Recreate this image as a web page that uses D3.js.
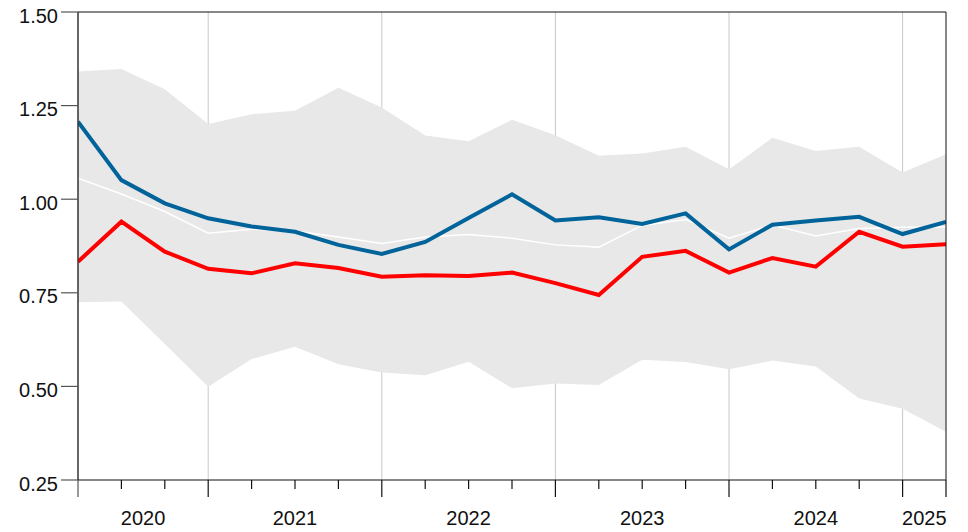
<!DOCTYPE html>
<html><head><meta charset="utf-8">
<script src="https://cdn.jsdelivr.net/npm/d3@7"></script>
<style>body{margin:0;background:#fff}svg{display:block;font-family:"Liberation Sans",Arial,sans-serif}</style>
</head><body><svg id="c" width="968" height="532"></svg>
<script>
const quarters = ["2020 Q2","2020 Q3","2020 Q4","2021 Q1","2021 Q2","2021 Q3","2021 Q4","2022 Q1","2022 Q2","2022 Q3","2022 Q4","2023 Q1","2023 Q2","2023 Q3","2023 Q4","2024 Q1","2024 Q2","2024 Q3","2024 Q4","2025 Q1","2025 Q2"];
const blueSeries = [1.207,1.051,0.989,0.949,0.927,0.913,0.878,0.854,0.886,0.950,1.013,0.943,0.952,0.934,0.962,0.866,0.932,0.943,0.953,0.907,0.939];
const redSeries = [0.833,0.940,0.860,0.814,0.802,0.829,0.816,0.793,0.797,0.795,0.804,0.776,0.744,0.846,0.862,0.804,0.843,0.820,0.913,0.873,0.880];
const medianSeries = [1.056,1.014,0.967,0.909,0.920,0.915,0.899,0.882,0.899,0.906,0.896,0.878,0.872,0.930,0.946,0.896,0.931,0.902,0.922,0.925,0.926];
const bandUpper = [1.341,1.348,1.294,1.201,1.227,1.236,1.298,1.245,1.170,1.155,1.212,1.171,1.116,1.122,1.140,1.080,1.164,1.129,1.140,1.071,1.120];
const bandLower = [0.725,0.727,0.613,0.499,0.573,0.606,0.559,0.537,0.530,0.566,0.495,0.508,0.504,0.571,0.565,0.546,0.569,0.553,0.468,0.440,0.379];
const yTicks = [0.25,0.50,0.75,1.00,1.25,1.50];
const yearLabels = ["2020","2021","2022","2023","2024","2025"];

const L=78,R=946,T=12,B=480;
const svg=d3.select("#c");
const tq = quarters.map(q=>{const [y,qq]=q.split(" Q");return +y+(+qq-1)/4;});
const x=d3.scaleLinear().domain([tq[0],tq[tq.length-1]]).range([L,R]);
const y=d3.scaleLinear().domain([0.25,1.5]).range([B,T]);
const idx=d3.range(quarters.length);

svg.append("clipPath").attr("id","clip").append("rect").attr("x",L).attr("y",T).attr("width",R-L).attr("height",B-T);

// vertical grid at year starts
const yearStarts = yearLabels.map(Number).filter(v=>v>tq[0]&&v<tq[tq.length-1]);
svg.append("g").selectAll("line").data(yearStarts).join("line")
  .attr("x1",d=>x(d)).attr("x2",d=>x(d)).attr("y1",T).attr("y2",B)
  .attr("stroke","#c8c8c8").attr("stroke-width",1);

const g=svg.append("g").attr("clip-path","url(#clip)");
g.append("path").datum(idx)
  .attr("d",d3.area().x(i=>x(tq[i])).y0(i=>y(bandLower[i])).y1(i=>y(bandUpper[i])))
  .attr("fill","#e8e8e8");
const line=(arr)=>d3.line().x(i=>x(tq[i])).y(i=>y(arr[i]));
g.append("path").datum(idx).attr("d",line(medianSeries)).attr("fill","none").attr("stroke","#fff").attr("stroke-width",1.5);
g.append("path").datum(idx).attr("d",line(blueSeries)).attr("fill","none").attr("stroke","#00649a").attr("stroke-width",4).attr("stroke-linejoin","miter");
g.append("path").datum(idx).attr("d",line(redSeries)).attr("fill","none").attr("stroke","#ff0000").attr("stroke-width",4).attr("stroke-linejoin","miter");

// frame
svg.append("line").attr("x1",L).attr("x2",R).attr("y1",T).attr("y2",T).attr("stroke","#111").attr("stroke-width",1);
svg.append("line").attr("x1",R).attr("x2",R).attr("y1",T).attr("y2",B).attr("stroke","#111").attr("stroke-width",1);
svg.append("line").attr("x1",L).attr("x2",L).attr("y1",T).attr("y2",B).attr("stroke","#333").attr("stroke-width",1.5);
svg.append("line").attr("x1",L).attr("x2",R).attr("y1",B).attr("y2",B).attr("stroke","#111").attr("stroke-width",1.2);

// y axis
const ya=svg.append("g");
ya.selectAll("line").data(yTicks).join("line")
  .attr("x1",61).attr("x2",L).attr("y1",d=>y(d)).attr("y2",d=>y(d)).attr("stroke","#555").attr("stroke-width",1.2);
ya.selectAll("text").data(yTicks).join("text")
  .attr("x",58).attr("y",d=>y(d)+10.5).attr("text-anchor","end").attr("font-size",20).attr("fill","#111")
  .text(d=>d3.format(".2f")(d));

// x axis ticks
const xa=svg.append("g");
xa.selectAll("line").data(tq).join("line")
  .attr("x1",d=>x(d)).attr("x2",d=>x(d)).attr("y1",B)
  .attr("y2",(d,i)=>(Number.isInteger(d)||i===0||i===tq.length-1)?B+17:B+9)
  .attr("stroke",(d,i)=>(i===0)?"#555":"#111").attr("stroke-width",1.2);
xa.selectAll("text").data(yearLabels).join("text")
  .attr("x",d=>{const a=Math.max(+d,tq[0]),b=Math.min(+d+1,tq[tq.length-1]);return x((a+b)/2);})
  .attr("y",B+45).attr("text-anchor","middle").attr("font-size",20).attr("fill","#111").text(d=>d);
</script></body></html>
